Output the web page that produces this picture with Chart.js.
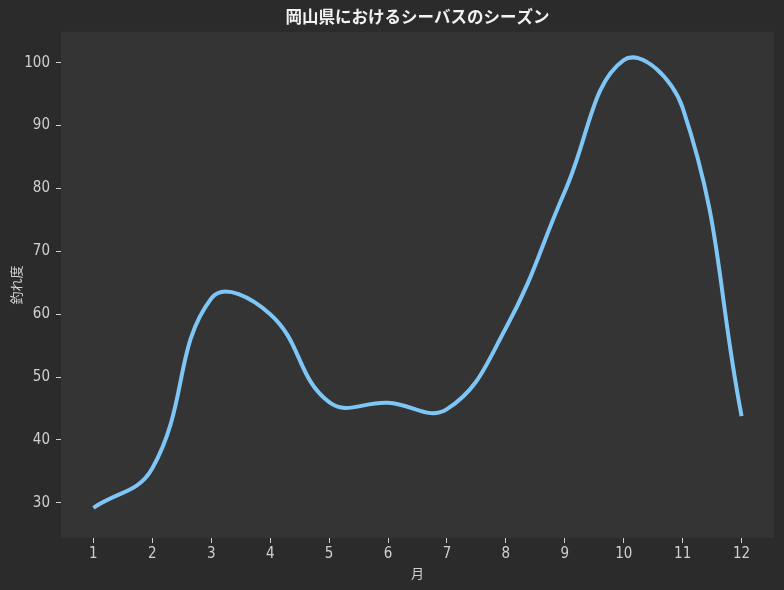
<!DOCTYPE html>
<html>
<head>
<meta charset="utf-8">
<script src="https://cdn.jsdelivr.net/npm/chart.js@4"></script>
<style>
  html, body { margin: 0; padding: 0; background: #2b2b2b; }
  #wrap { width: 784px; height: 590px; }
</style>
</head>
<body>
<div id="wrap"><canvas id="c" width="784" height="590"></canvas></div>
<script>
const months = [1, 2, 3, 4, 5, 6, 7, 8, 9, 10, 11, 12];
const catchIndex = [29.2, 35.5, 62.5, 60.0, 46.0, 45.9, 44.9, 57.8, 79.5, 100.4, 92.8, 43.8];
const xTicks = [1, 2, 3, 4, 5, 6, 7, 8, 9, 10, 11, 12];
const yTicks = [30, 40, 50, 60, 70, 80, 90, 100];
const titleText = '岡山県におけるシーバスのシーズン';
const xTitle = '月';
const yTitle = '釣れ度';

const tickFont = { family: "'DejaVu Sans Condensed', 'Liberation Sans Narrow', 'Noto Sans CJK JP', sans-serif", size: 15 };
const labelFont = { family: "'Noto Sans CJK JP', sans-serif", size: 13 };

const plotBg = {
  id: 'plotBg',
  afterLayout(chart) {
    const t = chart.titleBlock;
    if (t) {
      t.left = chart.chartArea.left;
      t.right = chart.chartArea.right;
      t.width = t.right - t.left;
    }
  },
  beforeDraw(chart) {
    const { ctx, chartArea: a } = chart;
    ctx.save();
    ctx.fillStyle = '#343434';
    ctx.fillRect(a.left, a.top, a.right - a.left, a.bottom - a.top);
    ctx.restore();
  }
};

new Chart(document.getElementById('c'), {
  type: 'line',
  data: {
    datasets: [{
      data: months.map((m, i) => ({ x: m, y: catchIndex[i] })),
      borderColor: '#7ec6f6',
      borderWidth: 4,
      pointRadius: 0,
      tension: 0.42,
      fill: false
    }]
  },
  options: {
    responsive: false,
    animation: false,
    devicePixelRatio: 1,
    layout: { padding: { left: 0, right: 10, top: 0, bottom: 0 } },
    plugins: {
      legend: { display: false },
      tooltip: { enabled: false },
      title: {
        display: true,
        text: titleText,
        color: '#f2f2f2',
        font: { family: "'Noto Sans CJK JP', sans-serif", size: 16.5, weight: 'bold' },
        padding: { top: 7, bottom: 5 }
      }
    },
    scales: {
      x: {
        type: 'linear',
        min: 0.45,
        max: 12.55,
        afterBuildTicks(s) { s.ticks = xTicks.map(v => ({ value: v })); },
        afterFit(s) { s.height = 52; },
        ticks: { color: '#d0d0d0', font: tickFont, padding: 2, autoSkip: false, maxRotation: 0 },
        grid: { display: true, drawOnChartArea: false, drawTicks: true, tickLength: 5, color: '#d0d0d0', lineWidth: 1 },
        border: { display: false },
        title: { display: true, text: xTitle, color: '#d0d0d0', font: labelFont, padding: { top: 0, bottom: 9 } }
      },
      y: {
        type: 'linear',
        min: 24.4,
        max: 104.9,
        afterBuildTicks(s) { s.ticks = yTicks.map(v => ({ value: v })); },
        afterFit(s) { s.width = 61; },
        ticks: { color: '#d0d0d0', font: tickFont, padding: 6 },
        grid: { display: true, drawOnChartArea: false, drawTicks: true, tickLength: 5, color: '#d0d0d0', lineWidth: 1 },
        border: { display: false },
        title: { display: true, text: yTitle, color: '#d0d0d0', font: labelFont, padding: { top: 8, bottom: 0 } }
      }
    }
  },
  plugins: [plotBg]
});
</script>
</body>
</html>
